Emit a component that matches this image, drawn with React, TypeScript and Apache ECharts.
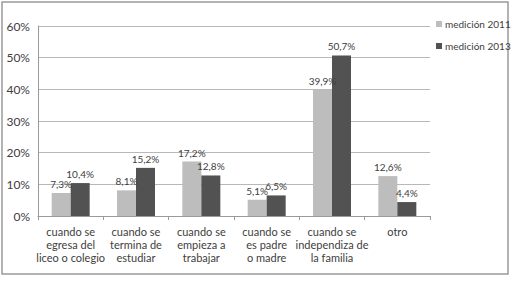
import React, { useEffect, useRef } from "react";
import * as echarts from "echarts";

const categories = [
  "cuando se\negresa del\nliceo o colegio",
  "cuando se\ntermina de\nestudiar",
  "cuando se\nempieza a\ntrabajar",
  "cuando se\nes padre\no madre",
  "cuando se\nindependiza de\nla familia",
  "otro",
];
const values2011 = [7.3, 8.1, 17.2, 5.1, 39.9, 12.6];
const values2013 = [10.4, 15.2, 12.8, 6.5, 50.7, 4.4];
const seriesNames = ["medición 2011", "medición 2013"];

const FONT = "Lato, 'Noto Sans', sans-serif";
const fmt = (p: any) => String(Number(p.value).toFixed(1)).replace(".", ",") + "%";

export default function App() {
  const ref = useRef<HTMLDivElement>(null);
  useEffect(() => {
    if (!ref.current) return;
    const chart = echarts.init(ref.current, undefined, { renderer: "svg" });
    chart.setOption({
      animation: false,
      backgroundColor: "#ffffff",
      textStyle: { fontFamily: FONT },
      graphic: [
        {
          type: "rect",
          shape: { x: 2, y: 2, width: 506, height: 272 },
          style: { fill: "none", stroke: "#9a9a9a", lineWidth: 1.5 },
          silent: true,
        },
      ],
      legend: {
        orient: "vertical",
        left: 436,
        top: 19,
        padding: 0,
        itemWidth: 6,
        itemHeight: 6,
        itemGap: 12,
        icon: "rect",
        textStyle: {
          fontSize: 10,
          color: "#404040",
          fontFamily: FONT,
          width: 70,
          overflow: "none",
          padding: [0, 0, 0, -2],
        },
        data: seriesNames,
      },
      grid: { left: 38, right: 81, top: 26, bottom: 65 },
      xAxis: {
        type: "category",
        data: categories,
        axisLine: { lineStyle: { color: "#9a9a9a" } },
        axisTick: { show: true, length: 4, lineStyle: { color: "#9a9a9a" } },
        axisLabel: {
          fontSize: 11,
          color: "#404040",
          lineHeight: 13,
          margin: 9,
          interval: 0,
          fontFamily: FONT,
        },
      },
      yAxis: {
        type: "value",
        min: 0,
        max: 60,
        interval: 10,
        axisLine: { show: true, lineStyle: { color: "#9a9a9a" } },
        axisTick: { show: false },
        splitLine: { lineStyle: { color: "#b8b8b8" } },
        axisLabel: {
          formatter: "{value}%",
          fontSize: 12,
          color: "#404040",
          margin: 8,
          fontFamily: FONT,
        },
      },
      series: [
        {
          name: seriesNames[0],
          type: "bar",
          data: values2011,
          barWidth: 19,
          barGap: "0%",
          itemStyle: { color: "#bdbdbd" },
          label: { show: true, position: "top", formatter: fmt, fontSize: 10, color: "#404040", distance: 4, fontFamily: FONT },
        },
        {
          name: seriesNames[1],
          type: "bar",
          data: values2013,
          barWidth: 19,
          itemStyle: { color: "#525252" },
          label: { show: true, position: "top", formatter: fmt, fontSize: 10, color: "#404040", distance: 4, fontFamily: FONT },
        },
      ],
    });
    return () => chart.dispose();
  }, []);
  return (
    <div
      ref={ref}
      style={{ position: "absolute", left: 0, top: 0, width: 511, height: 281 }}
    />
  );
}
